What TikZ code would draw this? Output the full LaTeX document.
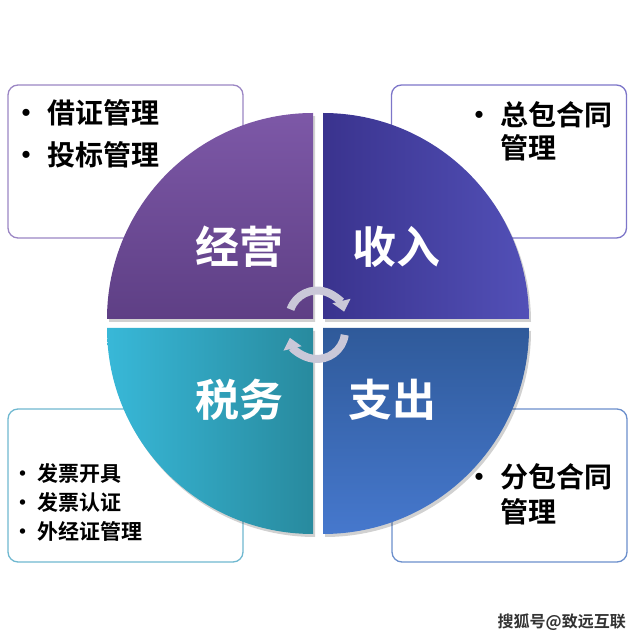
\documentclass[tikz,border=0pt]{standalone}
\usepackage{fontspec}
\setmainfont{Noto Sans CJK SC}[BoldFont={Noto Sans CJK SC Bold}]
\usepackage{tikz}
\usetikzlibrary{arrows.meta, positioning}
\definecolor{jyTop}{RGB}{125,88,167}
\definecolor{jyBot}{RGB}{94,63,133}
\definecolor{srLeft}{RGB}{58,51,142}
\definecolor{srRight}{RGB}{82,80,183}
\definecolor{swLeft}{RGB}{56,184,216}
\definecolor{swRight}{RGB}{40,138,158}
\definecolor{zcTop}{RGB}{47,90,154}
\definecolor{zcBot}{RGB}{70,120,205}
\definecolor{jyLine}{RGB}{155,134,196}
\definecolor{srLine}{RGB}{125,118,201}
\definecolor{swLine}{RGB}{111,184,208}
\definecolor{zcLine}{RGB}{107,143,204}
\definecolor{cycgrey}{RGB}{202,200,216}

\begin{document}
\begin{tikzpicture}[x=1pt, y=1pt,
  infobox/.style={rectangle, rounded corners=10pt, draw=#1, line width=1.3pt, fill=white,
                  minimum width=235pt, minimum height=153pt, inner sep=0pt},
  quadlabel/.style={text=white, font=\fontsize{44}{44}\selectfont\bfseries, inner sep=0pt},
  entry/.style={anchor=west, inner sep=0pt, font=\fontsize{28}{28}\selectfont\bfseries},
  smallentry/.style={entry, font=\fontsize{21}{21}\selectfont\bfseries},
  cyclearrow/.style={-{Triangle[length=11pt, width=18pt]}, line width=8pt, cycgrey}
]
\useasboundingbox (0,0) rectangle (640,640);

% boxes behind the disc
\node[infobox=jyLine] (jybox) at (125.5,478.5) {};
\node[infobox=srLine] (srbox) at (509,478.5)   {};
\node[infobox=swLine] (swbox) at (125.5,154.5) {};
\node[infobox=zcLine] (zcbox) at (509.5,154.5) {};

% quarter disc: shadows, then shaded sectors
\foreach \ox/\oy/\sa in {313/321/90, 323/321/0, 313/312/180, 323/312/270}
  \fill[black, opacity=.18] (\ox+2,\oy-3) -- +(\sa:206) arc[start angle=\sa, delta angle=90, radius=206] -- cycle;
\foreach \ox/\oy/\sa/\cA/\cB/\ang in {313/321/90/jyTop/jyBot/0, 323/321/0/srLeft/srRight/90,
                                      313/312/180/swLeft/swRight/90, 323/312/270/zcTop/zcBot/0}
  \shade[top color=\cA, bottom color=\cB, shading angle=\ang]
    (\ox,\oy) -- +(\sa:206) arc[start angle=\sa, delta angle=90, radius=206] -- cycle;

\node[quadlabel] (jy) at (239,393) {经营};
\node[quadlabel] (sr) at (396,393) {收入};
\node[quadlabel] (sw) at (239,240) {税务};
\node[quadlabel] (zc) at (392,240) {支出};

% cycle arrows
\draw[cyclearrow] (317,321.5) ++(161:28) arc[start angle=161, end angle=14, radius=28];
\draw[cyclearrow] (317,309) ++(-8:28) arc[start angle=-8, end angle=-166, radius=28];

% box texts
\node[entry] (jy1) at (12,527) {\makebox[35pt][l]{•}借证管理};
\node[entry] (jy2) at (12,485) {\makebox[35pt][l]{•}投标管理};
\node[entry] (sr1) at (465,525) {\makebox[35pt][l]{•}总包合同};
\node[entry] (sr2) at (500,492) {管理};
\node[smallentry] (sw1) at (12.5,167) {\makebox[24.5pt][l]{•}发票开具};
\node[smallentry] (sw2) at (12.5,138) {\makebox[24.5pt][l]{•}发票认证};
\node[smallentry] (sw3) at (12.5,109) {\makebox[24.5pt][l]{•}外经证管理};
\node[entry] (zc1) at (465,163) {\makebox[35pt][l]{•}分包合同};
\node[entry] (zc2) at (500,128) {管理};

\node[anchor=east, inner sep=0pt, font=\fontsize{16}{16}\selectfont\bfseries, text=black!80] (mark) at (626,18) {搜狐号@致远互联};
\end{tikzpicture}
\end{document}
